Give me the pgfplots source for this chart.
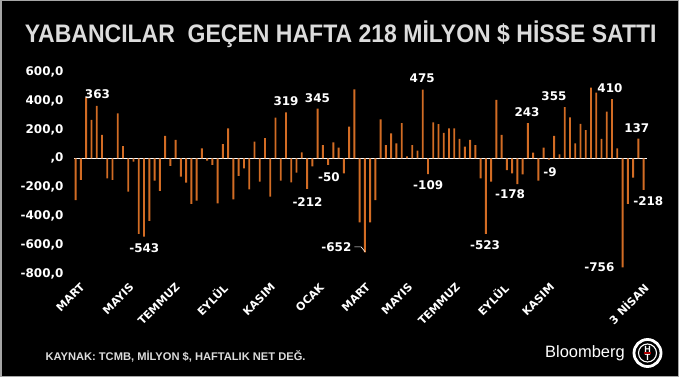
\documentclass[border=0pt]{standalone}
\usepackage{pgfplots}
\pgfplotsset{compat=1.18}
\usepackage{fontspec}
\setmainfont{Liberation Sans}
\newfontfamily\dv{DejaVu Sans}
\definecolor{barorange}{RGB}{210,108,36}
\definecolor{titlegrey}{RGB}{220,220,220}
\tikzset{lab/.style={font=\dv\bfseries\fontsize{12}{12}\selectfont, text=white}}
\begin{document}
\begin{tikzpicture}
\fill[black] (0,0) rectangle (679bp,377bp);
\draw[gray!70, line width=1.5bp] (0.75bp,0.75bp) rectangle (678.25bp,376.25bp);
\node[anchor=center, text=titlegrey] at (340.8bp,343bp)
  {\scalebox{1}[1.1]{\fontsize{23.1}{24}\selectfont\bfseries YABANCILAR\ \ GEÇEN HAFTA 218 MİLYON \$ HİSSE SATTI}};
\begin{axis}[
  at={(74bp,103.2bp)}, anchor=south west,
  width=573bp, height=202.1bp, scale only axis,
  xmin=0.68, xmax=109.65, ymin=-800, ymax=600,
  axis line style={draw=none},
  major tick length=0pt,
  ybar, bar width=1.9bp,
  ytick={-800,-600,...,600},
  yticklabels={{-800,0},{-600,0},{-400,0},{-200,0},{,0},{200,0},{400,0},{600,0}},
  yticklabel style={font=\dv\bfseries\fontsize{12}{12}\selectfont, text=white, xshift=-7bp},
  xtick={1.1,10.4,19.2,28.1,37.3,46.6,55.4,63.4,72.5,81.5,90.4,108.1},
  xticklabels={MART,MAYIS,TEMMUZ,EYLÜL,KASIM,OCAK,MART,MAYIS,TEMMUZ,EYLÜL,KASIM,3 NİSAN},
  xticklabel style={font=\dv\bfseries\fontsize{11}{11}\selectfont, text=white, rotate=45, anchor=north east, yshift=-5bp},
  extra y ticks={0}, extra y tick labels={},
  extra y tick style={grid=major, major grid style={white, line width=1bp}},
  clip=false,
]
\addplot[fill=barorange, draw=none] table[x=i, y=v] {
i v
1 -289
2 -150
3 423
4 266
5 363
6 162
7 -139
8 -150
9 312
10 85
11 -231
12 -23
13 -524
14 -543
15 -434
16 -155
17 -226
18 155
19 -53
20 127
21 -127
22 -169
23 -316
24 -293
25 69
26 -16
27 -46
28 -312
29 99
30 208
31 -284
32 -122
33 -69
34 -215
35 115
36 -162
37 139
38 -266
39 282
40 -155
41 319
42 -166
43 -99
44 42
45 -212
46 -55
47 345
48 92
49 -46
50 111
51 74
52 -104
53 219
54 478
55 -443
56 -652
57 -443
58 -289
59 270
60 92
61 173
62 104
63 243
64 14
65 92
66 53
67 475
68 -109
69 249
70 236
71 176
72 208
73 208
74 134
75 81
76 127
77 92
78 -139
79 -523
80 -162
81 404
82 162
83 -81
84 -104
85 -178
86 -111
87 243
88 39
89 -155
90 74
91 -9
92 155
93 28
94 355
95 284
96 104
97 238
98 196
99 490
100 455
101 134
102 323
103 410
104 69
105 -756
106 -316
107 -134
108 137
109 -218
};
\node[lab] at (axis cs:5.14,442) {363};
\node[lab] at (axis cs:14.05,-622) {-543};
\node[lab] at (axis cs:41.0,397) {319};
\node[lab] at (axis cs:46.98,418) {345};
\node[lab] at (axis cs:49.16,-130) {-50};
\node[lab] at (axis cs:45.08,-303) {-212};
\node[lab] at (axis cs:50.58,-615) {-652};
\draw[white, line width=0.6bp] (axis cs:53.99,-613) -- (axis cs:55.27,-613) -- (axis cs:56.03,-647);
\node[lab] at (axis cs:66.9,553) {475};
\node[lab] at (axis cs:68.04,-188) {-109};
\node[lab] at (axis cs:86.83,321) {243};
\node[lab] at (axis cs:83.6,-247) {-178};
\node[lab] at (axis cs:78.86,-601) {-523};
\node[lab] at (axis cs:91.95,432) {355};
\node[lab] at (axis cs:91.19,-95) {-9};
\node[lab] at (axis cs:102.6,487) {410};
\node[lab] at (axis cs:107.7,210) {137};
\node[lab] at (axis cs:109.9,-296) {-218};
\node[lab] at (axis cs:100.6,-753) {-756};
\end{axis}
\node[anchor=base west, text=titlegrey] at (42bp,17bp)
  {\resizebox{260bp}{!}{\bfseries KAYNAK: TCMB, MİLYON \$, HAFTALIK NET DEĞ.}};
\node[anchor=base west, text=white, inner sep=0pt] at (545bp,20bp)
  {\fontsize{16.5}{17}\selectfont Bloomberg};
\begin{scope}[shift={(647.5bp,24bp)}]
  \draw[white, line width=2.8bp] (0,0) circle (13.5bp);
  \draw[white, line width=1.1bp] (0,0) circle (9bp);
  \node[text=white, inner sep=0pt] at (0,4bp) {\fontsize{9}{9}\selectfont\bfseries H};
  \node[text=white, inner sep=0pt] at (0,-4.5bp) {\fontsize{9}{9}\selectfont\bfseries T};
  \fill[red!70!black] (-3.5bp,-0.6bp) rectangle (3.5bp,0.6bp);
\end{scope}
\end{tikzpicture}
\end{document}
